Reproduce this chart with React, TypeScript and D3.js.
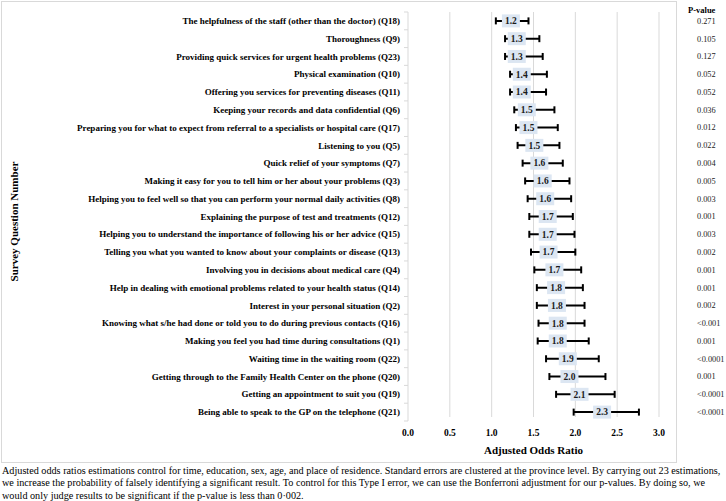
import React from "react";
import * as d3 from "d3";

const questions = [
  "The helpfulness of the staff (other than the doctor) (Q18)",
  "Thoroughness (Q9)",
  "Providing quick services for urgent health problems (Q23)",
  "Physical examination (Q10)",
  "Offering you services for preventing diseases (Q11)",
  "Keeping your records and data confidential (Q6)",
  "Preparing you for what to expect from referral to a specialists or hospital care (Q17)",
  "Listening to you (Q5)",
  "Quick relief of your symptoms (Q7)",
  "Making it easy for you to tell him or her about your problems (Q3)",
  "Helping you to feel well so that you can perform your normal daily activities (Q8)",
  "Explaining the purpose of test and treatments (Q12)",
  "Helping you to understand the importance of following his or her advice (Q15)",
  "Telling you what you wanted to know about your complaints or disease (Q13)",
  "Involving you in decisions about medical care (Q4)",
  "Help in dealing with emotional problems related to your health status (Q14)",
  "Interest in your personal situation (Q2)",
  "Knowing what s/he had done or told you to do during previous contacts (Q16)",
  "Making you feel you had time during consultations (Q1)",
  "Waiting time in the waiting room (Q22)",
  "Getting through to the Family Health Center on the phone (Q20)",
  "Getting an appointment to suit you (Q19)",
  "Being able to speak to the GP on the telephone (Q21)",
];

// displayed adjusted odds ratios
const oddsRatio = [1.2, 1.3, 1.3, 1.4, 1.4, 1.5, 1.5, 1.5, 1.6, 1.6, 1.6, 1.7, 1.7, 1.7, 1.7, 1.8, 1.8, 1.8, 1.8, 1.9, 2.0, 2.1, 2.3];
// point estimate position
const pointEst = [1.23, 1.3, 1.3, 1.36, 1.36, 1.42, 1.44, 1.51, 1.57, 1.61, 1.64, 1.67, 1.67, 1.68, 1.75, 1.77, 1.78, 1.79, 1.79, 1.91, 1.93, 2.05, 2.32];
const ciLow = [1.05, 1.16, 1.16, 1.22, 1.22, 1.27, 1.29, 1.31, 1.37, 1.4, 1.43, 1.45, 1.45, 1.47, 1.51, 1.54, 1.54, 1.56, 1.55, 1.65, 1.69, 1.77, 1.98];
const ciHigh = [1.44, 1.57, 1.61, 1.66, 1.65, 1.75, 1.79, 1.81, 1.85, 1.93, 1.95, 1.97, 1.99, 2.0, 2.07, 2.09, 2.11, 2.11, 2.16, 2.28, 2.36, 2.47, 2.76];
const pValues = ["0.271", "0.105", "0.127", "0.052", "0.052", "0.036", "0.012", "0.022", "0.004", "0.005", "0.003", "0.001", "0.003", "0.002", "0.001", "0.001", "0.002", "<0.001", "0.001", "<0.0001", "0.001", "<0.0001", "<0.0001"];
const xTicks = [0, 0.5, 1, 1.5, 2, 2.5, 3];
const footnote = [
  "Adjusted odds ratios estimations control for time, education, sex, age, and place of residence. Standard errors are clustered at the province level. By carrying out 23 estimations,",
  "we increase the probability of falsely identifying a significant result. To control for this Type I error, we can use the Bonferroni adjustment for our p-values. By doing so, we",
  "would only judge results to be significant if the p-value is less than 0·002.",
];

const W = 726;
const H = 501;
const FONT = "'Liberation Serif', 'Times New Roman', serif";

export default function App() {
  const x = d3.scaleLinear().domain([0, 3]).range([408, 659]);
  const y = d3.scaleBand<string>().domain(questions).range([12, 421]).padding(0);
  const bw = y.bandwidth();
  const fmt = d3.format(".1f");

  return (
    <svg
      width={W}
      height={H}
      style={{ position: "absolute", left: 0, top: 0, background: "#fff" }}
      fontFamily={FONT}
    >
      {/* chart frame */}
      <rect x={1.5} y={1.5} width={675} height={461} fill="none" stroke="#d9d9d9" strokeWidth={1} />

      {/* gridlines */}
      {xTicks.slice(1).map((t) => (
        <line key={t} x1={x(t)} x2={x(t)} y1={12} y2={417} stroke="#d9d9d9" strokeWidth={1} />
      ))}
      {/* y axis line and ticks */}
      <line x1={x(0)} x2={x(0)} y1={12} y2={421} stroke="#d9d9d9" strokeWidth={1} />
      {questions.map((q, i) => (
        <line key={"t" + i} x1={x(0) - 4} x2={x(0)} y1={(y(q) as number)} y2={(y(q) as number)} stroke="#d9d9d9" />
      ))}
      <line x1={x(0) - 4} x2={x(0)} y1={421} y2={421} stroke="#d9d9d9" />

      {/* category labels */}
      {questions.map((q) => (
        <text
          key={q}
          x={400}
          y={(y(q) as number) + bw / 2}
          dy="0.35em"
          textAnchor="end"
          fontSize={9}
          fontWeight="bold"
          fill="#000"
        >
          {q}
        </text>
      ))}

      {/* error bars and labels */}
      {questions.map((q, i) => {
        const cy = (y(q) as number) + bw / 2;
        const x1 = x(ciLow[i]);
        const x2 = x(ciHigh[i]);
        const cx = x(pointEst[i]);
        return (
          <g key={"e" + i}>
            <line x1={x1} x2={x2} y1={cy} y2={cy} stroke="#000" strokeWidth={2} />
            <line x1={x1} x2={x1} y1={cy - 3.5} y2={cy + 3.5} stroke="#000" strokeWidth={2} />
            <line x1={x2} x2={x2} y1={cy - 3.5} y2={cy + 3.5} stroke="#000" strokeWidth={2} />
            <rect x={cx - 9} y={cy - 6.5} width={18} height={13} fill="#dce6f2" />
            <text x={cx} y={cy} dy="0.35em" textAnchor="middle" fontSize={9.5} fontWeight="bold" fill="#1a1a1a">
              {fmt(oddsRatio[i])}
            </text>
          </g>
        );
      })}

      {/* x tick labels */}
      {xTicks.map((t) => (
        <text key={"x" + t} x={x(t)} y={433} dy="0.35em" textAnchor="middle" fontSize={9.5} fontWeight="bold" fill="#000">
          {fmt(t)}
        </text>
      ))}
      <text x={(x(0) + x(3)) / 2} y={450} dy="0.35em" textAnchor="middle" fontSize={11} fontWeight="bold" fill="#000">
        Adjusted Odds Ratio
      </text>

      {/* y axis title */}
      <text
        transform={`translate(14, ${(12 + 421) / 2 + 5}) rotate(-90)`}
        textAnchor="middle"
        dy="0.35em"
        fontSize={11}
        fontWeight="bold"
        fill="#000"
      >
        Survey Question Number
      </text>

      {/* p-values */}
      <text x={688} y={10} dy="0.35em" fontSize={8.5} fontWeight="bold" fill="#000">
        P-value
      </text>
      {questions.map((q, i) => (
        <text key={"p" + i} x={697} y={(y(q) as number) + bw / 2} dy="0.35em" fontSize={8.3} fill="#222">
          {pValues[i]}
        </text>
      ))}

      {/* footnote */}
      {footnote.map((line, i) => (
        <text key={"f" + i} x={2} y={470 + i * 12.5} dy="0.35em" fontSize={10.2} fill="#000">
          {line}
        </text>
      ))}
    </svg>
  );
}
